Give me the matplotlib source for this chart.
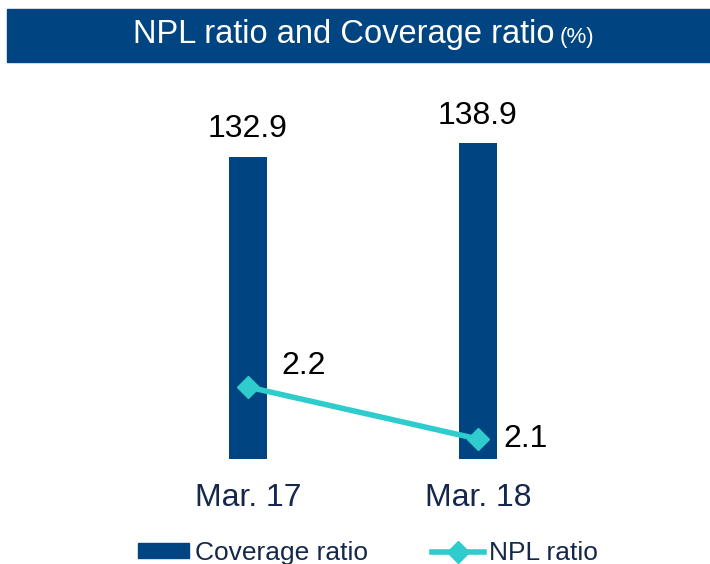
import matplotlib
matplotlib.use("Agg")
import matplotlib.pyplot as plt
from matplotlib.patches import Rectangle
from matplotlib.lines import Line2D

categories = ["Mar. 17", "Mar. 18"]
coverage = [132.9, 138.9]
npl = [2.2, 2.1]

BLUE = "#004581"
CYAN = "#2ECCCC"
NAVY = "#15284B"

plt.rcParams["font.family"] = ["Liberation Sans", "DejaVu Sans"]

W, H = 710, 564
fig = plt.figure(figsize=(W / 100, H / 100), dpi=100)

# title bar
fig.patches.append(Rectangle((7 / W, 1 - 62 / H), (W - 7) / W, 53 / H,
                             transform=fig.transFigure, color=BLUE, zorder=0))

# axes in pixel geometry
left, right, top, bottom = 133, 593, 80, 459
ax = fig.add_axes([left / W, 1 - bottom / H, (right - left) / W, (bottom - top) / H])
x = list(range(len(categories)))
ax.bar(x, coverage, width=0.165, color=BLUE, zorder=2)
ax.set_xlim(-0.5, 1.5)
ax.set_ylim(0, (bottom - top) / 2.273)
for s in ax.spines.values():
    s.set_visible(False)
ax.set_yticks([])
ax.set_xticks(x)
ax.set_xticklabels(categories, fontsize=23, color=NAVY)
ax.tick_params(axis="x", length=0, pad=17)
for xi, v in zip(x, coverage):
    ax.annotate(f"{v:.1f}", (xi, v), xytext=(0, 9), textcoords="offset points",
                ha="center", va="bottom", fontsize=23, color="black")

ax2 = ax.twinx()
ax2.plot(x, npl, color=CYAN, lw=4, marker="D", markersize=11, zorder=3)
ppu = 520
ax2.set_ylim(2.1 - (bottom - 439) / ppu, 2.2 + (387 - top) / ppu)
ax2.set_yticks([])
for s in ax2.spines.values():
    s.set_visible(False)
ax2.annotate(f"{npl[0]:.1f}", (x[0], npl[0]), xytext=(24, 15), textcoords="offset points",
             ha="left", va="center", fontsize=23, color="black")
ax2.annotate(f"{npl[1]:.1f}", (x[1], npl[1]), xytext=(18, 0), textcoords="offset points",
             ha="left", va="center", fontsize=23, color="black")

# legend
handles = [Rectangle((0, 0), 1, 1, color=BLUE),
           Line2D([], [], color=CYAN, lw=4, marker="D", markersize=11)]
leg = fig.legend(handles, ["Coverage ratio", "NPL ratio"], loc="center",
                 bbox_to_anchor=(368 / W, 1 - 553 / H), ncol=2, frameon=False,
                 fontsize=19, handlelength=1.95, handletextpad=0.2, columnspacing=2.45,
                 handleheight=0.5, labelcolor=NAVY)

# title
fig.canvas.draw()
r = fig.canvas.get_renderer()
t1 = fig.text(0, 1 - 35 / H, "NPL ratio and Coverage ratio", color="white",
              fontsize=23.5, va="center", ha="left")
t2 = fig.text(0, 1 - 37 / H, "(%)", color="white", fontsize=16,
              va="center", ha="left")
w1 = t1.get_window_extent(r).width
w2 = t2.get_window_extent(r).width
gap = 5
x0 = 133
t1.set_x(x0 / W)
t2.set_x((x0 + w1 + gap) / W)

fig.savefig("out.png", dpi=100)
